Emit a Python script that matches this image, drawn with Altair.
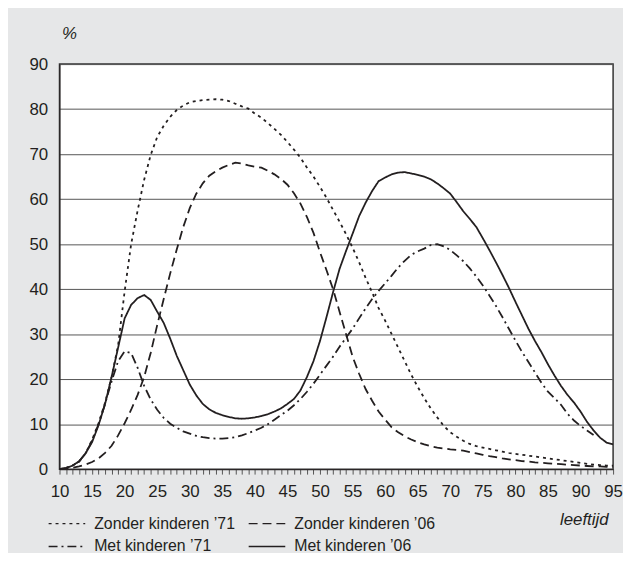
import altair as alt
import pandas as pd

ages = list(range(10, 96))

zonder_71 = [0, 0.3, 0.8, 1.7, 3.5, 6.5, 10.2, 14.8, 20.5, 27.5,
             39.5, 50, 57.5, 64.3, 69.8, 73.8, 76.3, 78.3, 79.8, 80.8,
             81.5, 81.8, 82, 82.1, 82.2, 82.1, 81.8, 81.2, 80.6, 80.1,
             79, 78.1, 76.9, 75.6, 74.3, 72.7, 71, 69.2, 67, 65,
             62.7, 60.3, 57.6, 55, 52.2, 49.2, 46, 42.5, 39.3, 35.8,
             33, 30, 27, 24, 21, 18.3, 15.8, 13.5, 11.5, 9.6,
             8.2, 7.2, 6.3, 5.6, 5.1, 4.8, 4.5, 4.2, 3.9, 3.6,
             3.4, 3.2, 3.0, 2.8, 2.6, 2.4, 2.2, 2.0, 1.8, 1.6,
             1.4, 1.2, 1.0, 0.9, 0.8, 0.8]

zonder_06 = [0, 0.1, 0.3, 0.6, 1.0, 1.6, 2.4, 3.6, 5.2, 7.5,
             10.2, 13.2, 16.5, 20.5, 25.8, 32, 37.8, 43.5, 48.8, 53.8,
             58, 61.2, 63.5, 65.2, 66.2, 67, 67.6, 68.1, 67.9, 67.5,
             67.2, 67, 66.3, 65.5, 64.5, 63.2, 61.3, 59, 56, 52.5,
             48.2, 44.2, 40, 35, 30, 25, 21.2, 17.8, 15.2, 12.8,
             11, 9.3, 8.2, 7.3, 6.6, 6, 5.5, 5.1, 4.8, 4.6,
             4.4, 4.3, 4.1, 3.8, 3.5, 3.2, 2.9, 2.7, 2.4, 2.2,
             2.0, 1.8, 1.7, 1.5, 1.4, 1.3, 1.2, 1.1, 1.0, 0.9,
             0.8, 0.7, 0.6, 0.6, 0.5, 0.5]

met_71 = [0, 0.3, 0.8, 1.7, 3.5, 6.3, 10, 14.5, 19.5, 24,
          26.2, 25.8, 22.5, 18.5, 15.5, 13.2, 11.4, 10.1, 9.2, 8.4,
          7.9, 7.4, 7.1, 6.9, 6.8, 6.8, 6.9, 7.1, 7.5, 8,
          8.6, 9.2, 10, 11, 12, 13, 14.2, 15.6, 17.2, 19,
          21, 23, 25, 27.2, 29.2, 31.2, 33.5, 35.7, 37.8, 39.6,
          41.3, 43, 44.8, 46.3, 47.6, 48.4, 49, 49.8, 50, 49.5,
          48.7, 47.5, 46.2, 44.6, 42.8, 40.8, 38.6, 36.3, 33.8, 31.2,
          28.6, 26.1, 23.8, 21.5, 19.2, 17.2, 15.8, 14.3, 12.3, 10.8,
          9.6, 8.6, 7.6]

met_06 = [0, 0.2, 0.8, 1.7, 3.5, 6, 9.8, 14.5, 20.5, 27,
          33.5, 36.5, 38, 38.7, 37.6, 35, 32.5, 29, 25.2, 22,
          18.8, 16.4, 14.5, 13.3, 12.5, 12, 11.6, 11.3, 11.2, 11.3,
          11.5, 11.8, 12.2, 12.8, 13.5, 14.5, 15.6, 17.5, 20.5, 24,
          28.5, 33.8, 39.3, 44.5, 48.5, 52.3, 56.2, 59.2, 61.8, 64,
          64.8, 65.5, 65.9, 66, 65.7, 65.4, 65, 64.4, 63.5, 62.4,
          61.2, 59.3, 57.3, 55.6, 53.8, 51.3, 48.7, 46, 43.2, 40.3,
          37.2, 34.2, 31.2, 28.5, 26, 23.3, 20.8, 18.5, 16.5, 14.8,
          12.8, 10.5, 8.6, 7, 5.9, 5.5]

series_names = ["Zonder kinderen \u201971", "Zonder kinderen \u201906",
                "Met kinderen \u201971", "Met kinderen \u201906"]
series_values = [zonder_71, zonder_06, met_71, met_06]
dash_patterns = [[3, 4], [9, 5], [9, 4, 2, 4], [1, 0]]

y_ticks = list(range(0, 91, 10))
x_ticks = list(range(10, 96))

rows = []
for name, vals in zip(series_names, series_values):
    for a, v in zip(ages, vals):
        rows.append({"leeftijd": a, "pct": v, "reeks": name})
df = pd.DataFrame(rows)

ink = "#231f20"
font = "Liberation Sans"

chart = alt.Chart(df).mark_line(strokeWidth=1.8, color=ink, clip=True).encode(
    x=alt.X("leeftijd:Q",
            scale=alt.Scale(domain=[10, 95], nice=False, zero=False),
            axis=alt.Axis(values=x_ticks,
                          labelExpr="datum.value % 5 == 0 ? datum.label : ''",
                          tickSize=5, tickColor="#555555", tickWidth=1,
                          domainColor=ink, domainWidth=1,
                          labelFontSize=17, labelFont=font, labelColor=ink,
                          labelPadding=10, labelFlush=False, labelOverlap=False,
                          grid=False,
                          title="leeftijd", titleFont=font, titleFontSize=17,
                          titleFontStyle="italic", titleFontWeight="normal",
                          titleColor=ink, titleAlign="right",
                          titleBaseline="alphabetic", titleX=554, titleY=56)),
    y=alt.Y("pct:Q",
            scale=alt.Scale(domain=[0, 90], nice=False),
            axis=alt.Axis(values=y_ticks, ticks=False,
                          domainColor=ink, domainWidth=1,
                          gridColor="#555555", gridWidth=1,
                          labelFontSize=17, labelFont=font, labelColor=ink,
                          labelPadding=12,
                          title="%", titleFont=font, titleFontSize=17,
                          titleFontStyle="italic", titleFontWeight="normal",
                          titleColor=ink, titleAngle=0, titleAlign="left",
                          titleBaseline="alphabetic", titleX=2, titleY=-26)),
    strokeDash=alt.StrokeDash("reeks:N",
                              scale=alt.Scale(domain=series_names, range=dash_patterns),
                              legend=alt.Legend(title=None, orient="none",
                                                direction="horizontal",
                                                legendX=-7.5, legendY=449,
                                                columns=2, columnPadding=10,
                                                rowPadding=0, padding=0,
                                                symbolType="M-1.32,0H1.32",
                                                symbolSize=784,
                                                symbolStrokeWidth=1.5,
                                                symbolStrokeColor=ink,
                                                symbolFillColor="transparent",
                                                labelFontSize=16, labelFont=font,
                                                labelColor=ink, labelOffset=12.5)),
    order=alt.Order("leeftijd:Q"),
).properties(
    width=559, height=409,
    autosize=alt.AutoSizeParams(type="none"),
    padding={"left": 52, "top": 54, "right": 10, "bottom": 82},
    background="#e6e7e8",
).configure_view(
    fill="white", stroke="#333333", strokeWidth=1.5
)

chart.save("out.html", embed_options={"renderer": "svg", "actions": False})
